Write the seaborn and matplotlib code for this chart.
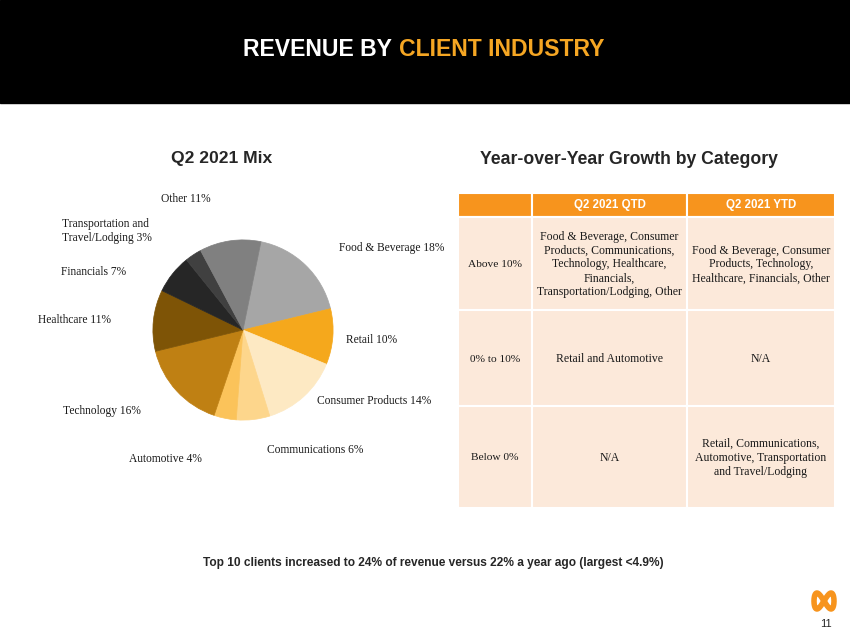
import matplotlib.pyplot as plt
from matplotlib.patches import Rectangle
import numpy as np
import seaborn as sns

sns.set_theme(style="white")
plt.rcParams['font.family'] = ['Liberation Sans', 'DejaVu Sans']

# Pie data (clockwise from the top)
categories = ["Food & Beverage", "Retail", "Consumer Products", "Communications",
              "Automotive", "Technology", "Healthcare", "Financials",
              "Transportation and\nTravel/Lodging", "Other"]
shares = [18, 10, 14, 6, 4, 16, 11, 7, 3, 11]
slice_colors = ["#a6a6a6", "#f5a81c", "#fde9c3", "#fdd68c", "#fbc35a",
                "#bf8013", "#7e5406", "#262626", "#404040", "#808080"]
# label centres in pixels (layout only)
label_xy = [(392, 248), (372, 340), (374, 401), (315, 450), (165, 459),
            (102, 411), (75, 320), (94, 272), (62, 231), (186, 199)]

# Table data
col_headers = ["", "Q2 2021 QTD", "Q2 2021 YTD"]
row_labels = ["Above 10%", "0% to 10%", "Below 0%"]
qtd_text = ["Food & Beverage, Consumer\nProducts, Communications,\nTechnology, Healthcare,\nFinancials,\nTransportation/Lodging, Other",
            "Retail and Automotive",
            "N/A"]
ytd_text = ["Food & Beverage, Consumer\nProducts, Technology,\nHealthcare, Financials, Other",
            "N/A",
            "Retail, Communications,\nAutomotive, Transportation\nand Travel/Lodging"]

orange = "#f7941d"
gold = "#f5a623"
peach = "#fce9da"

fig = plt.figure(figsize=(8.5, 6.38), dpi=100)
fig.patch.set_facecolor("white")

# full-figure axes in pixel coordinates
bg = fig.add_axes([0, 0, 1, 1])
bg.set_xlim(0, 850)
bg.set_ylim(638, 0)
bg.axis("off")

# title bar
bg.add_patch(Rectangle((0, 0), 850, 103, color="black", zorder=0))
bg.text(392, 50, "REVENUE BY", color="white", fontsize=16.6, fontweight="bold",
        ha="right", va="center")
bg.text(399, 50, "CLIENT INDUSTRY", color=gold, fontsize=16.6, fontweight="bold",
        ha="left", va="center")

# section titles
bg.text(222, 159, "Q2 2021 Mix", fontsize=12.6, fontweight="bold", color="#262626",
        ha="center", va="center")
bg.text(629, 159, "Year-over-Year Growth by Category", fontsize=12.7, fontweight="bold",
        color="#262626", ha="center", va="center")

# pie
pie_ax = fig.add_axes([152 / 850, (638 - 421) / 638, 182 / 850, 182 / 638])
wedges, _ = pie_ax.pie(shares, colors=slice_colors, startangle=78.5, counterclock=False)
for w in wedges:
    w.set_edgecolor(w.get_facecolor())
    w.set_linewidth(0.5)
pie_ax.set_xlim(-1.01, 1.01)
pie_ax.set_ylim(-1.01, 1.01)
pie_ax.axis("off")

for name, share, (lx, ly) in zip(categories, shares, label_xy):
    ha = "left" if "\n" in name else "center"
    bg.text(lx, ly, f"{name} {share}%", fontsize=8.3, family="Liberation Serif",
            color="#1a1a1a", ha=ha, va="center", linespacing=1.25)

# table
col_edges = [458, 532, 687, 835]
row_edges = [193, 217, 310, 406, 508]
cells = [col_headers] + [[r, q, y] for r, q, y in zip(row_labels, qtd_text, ytd_text)]
for i, row in enumerate(cells):
    for j, txt in enumerate(row):
        x0, x1 = col_edges[j], col_edges[j + 1]
        y0, y1 = row_edges[i], row_edges[i + 1]
        bg.add_patch(Rectangle((x0, y0), x1 - x0, y1 - y0,
                               facecolor=orange if i == 0 else peach,
                               edgecolor="white", linewidth=1.5))
        if i == 0:
            bg.text((x0 + x1) / 2, (y0 + y1) / 2, txt, color="white", fontsize=8.3,
                    fontweight="bold", ha="center", va="center")
        else:
            bg.text((x0 + x1) / 2, (y0 + y1) / 2 + 1, txt, color="#1a1a1a",
                    fontsize=8.2 if j == 0 else 8.5,
                    family="Liberation Serif", ha="center", va="center",
                    linespacing=1.22)

# footnote
bg.text(433, 563, "Top 10 clients increased to 24% of revenue versus 22% a year ago (largest <4.9%)",
        fontsize=8.6, fontweight="bold", color="#262626", ha="center", va="center")

# logo and page number
t = np.linspace(0, 2 * np.pi, 200)
bg.plot(824 + 10 * np.sin(t), 601 + 8 * np.sin(2 * t), color=orange, linewidth=4,
        solid_capstyle="round")
bg.text(826, 624, "11", fontsize=8, color="#262626", ha="center", va="center")

fig.savefig("out.png", dpi=100)
